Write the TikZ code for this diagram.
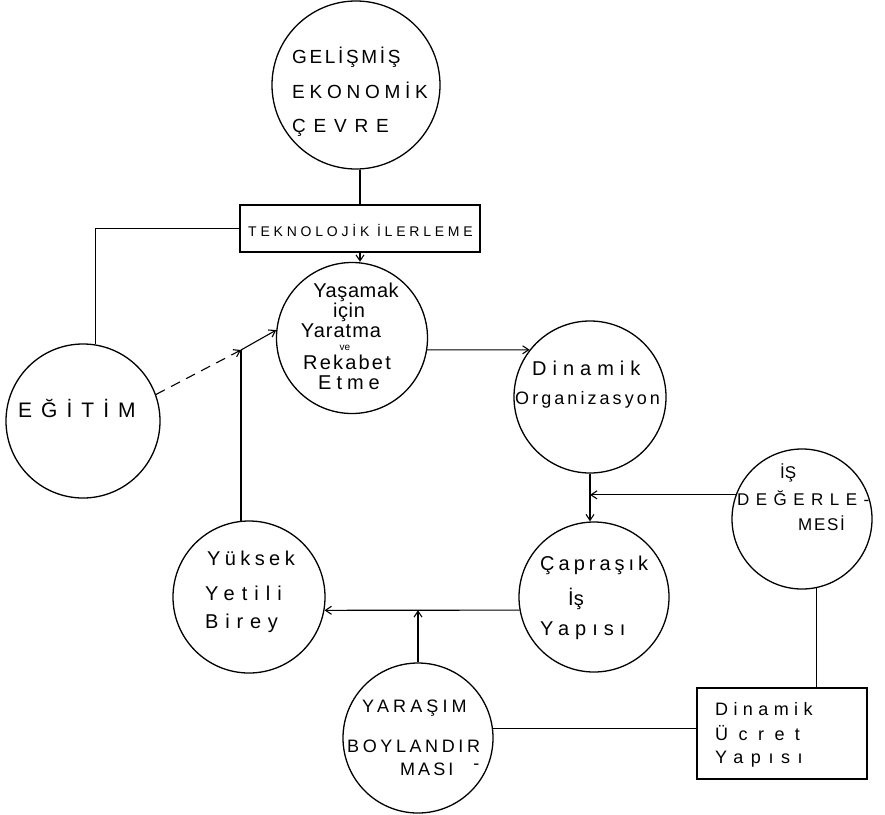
\documentclass[tikz,border=0pt]{standalone}
\usepackage{fontspec}
\setmainfont{Liberation Sans}
\usetikzlibrary{arrows.meta}
\newcommand\hwf[2]{\fontsize{#1}{#1}\selectfont\addfontfeature{LetterSpace=#2}}
\tikzset{
  bub/.style={draw, circle, inner sep=0pt, line width=1.3pt},
  box/.style={draw, rectangle, inner sep=0pt, line width=1.2pt},
  lbl/.style={inner sep=0pt, anchor=base west},
  lblc/.style={inner sep=0pt, anchor=base},
  con/.style={line width=1.1pt},
  arr/.style={con, -{Straight Barb[length=6pt,width=8pt]}},
  darr/.style={arr, dash pattern=on 10pt off 7pt},
}
\begin{document}
\begin{tikzpicture}[x=1pt,y=-1pt]
\fill[white] (0,0) rectangle (885,814);
\useasboundingbox (0,0) rectangle (885,814);

% shapes
\node[bub, minimum size=168pt] (gec) at (356,85) {};
\node[box, minimum width=240pt, minimum height=47pt] (tek) at (360,228.5) {};
\node[bub, minimum size=151pt] (yas) at (352,338) {};
\node[bub, minimum size=154pt] (egi) at (83,421) {};
\node[bub, minimum size=152pt] (din) at (590,397) {};
\node[bub, minimum size=140pt] (isd) at (802,519) {};
\node[bub, minimum size=150pt] (cap) at (594,597) {};
\node[bub, minimum size=152pt] (yuk) at (249,597) {};
\node[bub, minimum size=150pt] (yar) at (418,738) {};
\node[box, minimum width=170pt, minimum height=91pt] (ucr) at (782,733.5) {};

% texts
\node[lbl] (g1) at (292,63) {\hwf{19}{14}GELİŞMİŞ};
\node[lbl] (g2) at (292,98) {\hwf{19}{25}EKONOMİK};
\node[lbl] (g3) at (292,132) {\hwf{19}{41}ÇEVRE};

\node[lbl] (t1) at (248,236) {\hwf{14}{27}TEKNOLOJİK İLERLEME};

\node[lblc] (y1) at (356,297) {\hwf{20}{3}Yaşamak};
\node[lblc] (y2) at (349,317) {\hwf{20}{3}için};
\node[lblc] (y3) at (341,337) {\hwf{20}{5}Yaratma};
\node[lblc] (y4) at (345,350) {\hwf{10}{0}ve};
\node[lblc] (y5) at (347,369) {\hwf{20}{11}Rekabet};
\node[lblc] (y6) at (349,389) {\hwf{20}{25}Etme};

\node[lbl] (e1) at (18,417) {\hwf{21}{43}EĞİTİM};

\node[lbl] (d1) at (532,375) {\hwf{20}{30}Dinamik};
\node[lbl] (d2) at (515,404) {\hwf{18}{17}Organizasyon};

\node[lbl] (i1) at (780,478) {\hwf{17}{0}İŞ};
\node[lbl] (i2) at (737,505) {\hwf{17}{38}DEĞERLE-};
\node[lbl] (i3) at (798,530) {\hwf{17}{10}MESİ};

\node[lbl] (c1) at (540,570) {\hwf{20}{20}Çapraşık};
\node[lbl] (c2) at (568,605) {\hwf{20}{0}İş};
\node[lbl] (c3) at (540,635) {\hwf{20}{30}Yapısı};

\node[lbl] (k1) at (207,565) {\hwf{20}{22}Yüksek};
\node[lbl] (k2) at (205,600) {\hwf{20}{35}Yetili};
\node[lbl] (k3) at (205,628) {\hwf{20}{34}Birey};

\node[lbl] (r1) at (362,712) {\hwf{18}{23}YARAŞIM};
\node[lbl] (r2) at (347,752) {\hwf{18}{20}BOYLANDIR};
\node[lbl] (r3) at (400,775) {\hwf{18}{17}MASI\hspace{20pt}\raisebox{6pt}{-}};

\node[lbl] (u1) at (715,715) {\hwf{18}{30}Dinamik};
\node[lbl] (u2) at (715,740) {\hwf{18}{58}Ücret};
\node[lbl] (u3) at (715,763) {\hwf{18}{42}Yapısı};

% connectors
\coordinate (jn) at (yuk.96 |- 0,350);
\draw[con] (gec.south -| tek.north) -- (tek.north);
\draw[arr] (tek.south) -- (tek.south |- yas.north);
\draw[con] (egi.81) |- (tek.west);
\draw[darr] (egi.20) -- (jn);
\draw[arr] (jn) -- (yas.174);
\draw[con] (yuk.96) -- (jn);
\draw[arr] (yas.-9) -- (din.142);
\draw[arr] (din.south) -- (din.south |- cap.north);
\draw[arr] (isd.160) -- (din.south |- isd.160);
\draw[con] (isd.-78) -- (isd.-78 |- ucr.north);
\draw[arr] (cap.190) -- (yuk.-10);
\draw[arr] (yar.north) -- (yar.north |- cap.190);
\draw[con] (yar.7) -- (yar.7 -| ucr.west);
\end{tikzpicture}
\end{document}
